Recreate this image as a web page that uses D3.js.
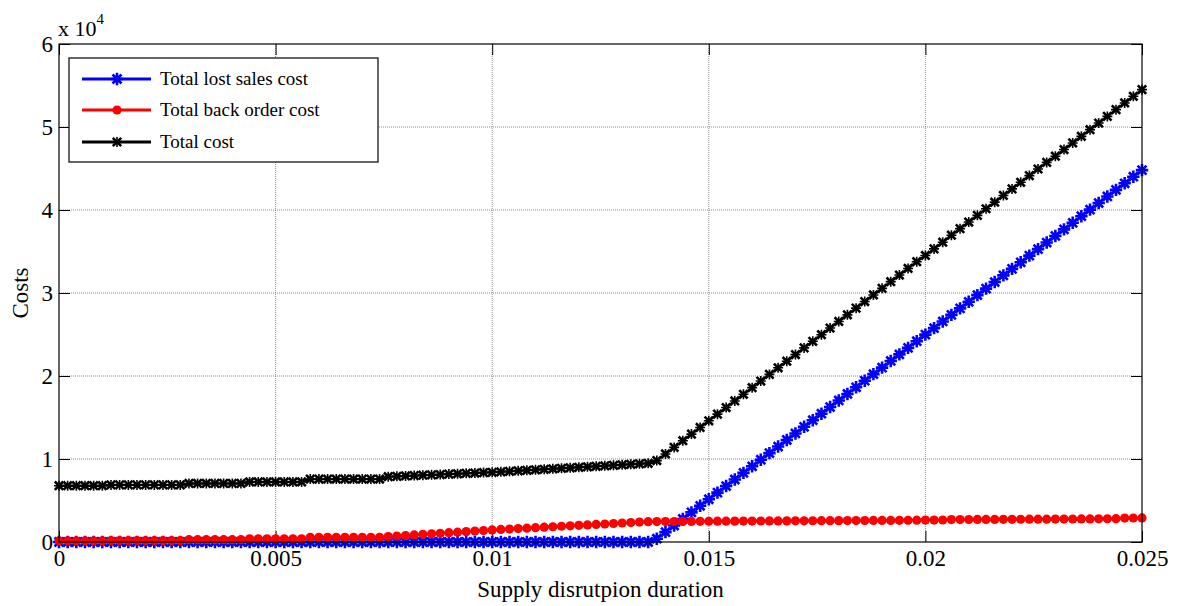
<!DOCTYPE html>
<html>
<head>
<meta charset="utf-8">
<script src="https://cdn.jsdelivr.net/npm/d3@7"></script>
<style>
  body { margin: 0; background: #fff; }
  text { font-family: "Liberation Serif", "Times New Roman", serif; fill: #000; }
</style>
</head>
<body>
<svg id="chart" width="1179" height="606"></svg>
<script>
// Supply disruption duration (x values of the sampled runs)
const duration = [
  0, 0.0002, 0.0004, 0.0006, 0.0008, 0.001,
  0.0012, 0.0014, 0.0016, 0.0018, 0.002, 0.0022, 0.0024, 0.0026, 0.0028,
  0.003, 0.0032, 0.0034, 0.0036, 0.0038, 0.004, 0.0042,
  0.0044, 0.0046, 0.0048, 0.005, 0.0052, 0.0054, 0.0056,
  0.0058, 0.006, 0.0062, 0.0064, 0.0066, 0.0068, 0.007, 0.0072, 0.0074,
  0.0076, 0.0078, 0.008, 0.0082, 0.0084, 0.0086, 0.0088, 0.009, 0.0092, 0.0094, 0.0096, 0.0098, 0.01,
  0.0102, 0.0104, 0.0106, 0.0108, 0.011, 0.0112, 0.0114, 0.0116, 0.0118, 0.012, 0.0122, 0.0124, 0.0126, 0.0128, 0.013, 0.0132, 0.0134, 0.0136,
  0.0138, 0.014, 0.0142, 0.0144, 0.0146, 0.0148, 0.015, 0.0152, 0.0154, 0.0156,
  0.0158, 0.016, 0.0162, 0.0164, 0.0166, 0.0168, 0.017, 0.0172, 0.0174, 0.0176,
  0.0178, 0.018, 0.0182, 0.0184, 0.0186, 0.0188, 0.019, 0.0192, 0.0194, 0.0196,
  0.0198, 0.02, 0.0202, 0.0204, 0.0206, 0.0208, 0.021, 0.0212, 0.0214, 0.0216,
  0.0218, 0.022, 0.0222, 0.0224, 0.0226, 0.0228, 0.023, 0.0232, 0.0234, 0.0236,
  0.0238, 0.024, 0.0242, 0.0244, 0.0246, 0.0248, 0.025
];

// Total lost sales cost
const lostSales = [
  0, 0, 0, 0, 0, 0,
  0, 0, 0, 0, 0, 0, 0, 0, 0,
  0, 0, 0, 0, 0, 0, 0,
  0, 0, 0, 0, 0, 0, 0,
  0, 0, 0, 0, 0, 0, 0, 0, 0,
  0, 0, 0, 0, 0, 0, 0, 0, 0, 0, 0, 0, 0,
  0, 0, 0, 0, 0, 0, 0, 0, 0, 0, 0, 0, 0, 0, 0, 0, 0, 0,
  400, 1190, 1980, 2780, 3570, 4360, 5150, 5950, 6740, 7530,
  8330, 9120, 9910, 10710, 11500, 12290, 13080, 13880, 14670, 15460,
  16260, 17050, 17840, 18640, 19430, 20220, 21010, 21810, 22600, 23390,
  24190, 24980, 25770, 26570, 27360, 28150, 28940, 29740, 30530, 31320,
  32120, 32910, 33700, 34500, 35290, 36080, 36870, 37670, 38460, 39250,
  40050, 40840, 41630, 42430, 43220, 44010, 44800
];

// Total back order cost
const backOrder = [
  150, 150, 150, 150, 150, 150,
  180, 180, 180, 180, 180, 180, 180, 180, 180,
  280, 280, 280, 280, 280, 280, 280,
  390, 390, 390, 390, 390, 390, 390,
  560, 560, 560, 560, 560, 560, 560, 560, 560,
  650, 720, 780, 850, 920, 980, 1050, 1120, 1180, 1250, 1320, 1380, 1450,
  1510, 1560, 1620, 1670, 1730, 1790, 1840, 1900, 1950, 2010, 2060, 2120, 2170, 2230, 2290, 2340, 2400, 2450,
  2460, 2465, 2470, 2475, 2480, 2490, 2500, 2505, 2510, 2515,
  2520, 2525, 2530, 2535, 2540, 2545, 2550, 2555, 2560, 2565,
  2570, 2575, 2580, 2585, 2590, 2595, 2600, 2605, 2610, 2620,
  2630, 2640, 2645, 2650, 2700, 2705, 2710, 2715, 2720, 2725,
  2730, 2735, 2740, 2745, 2750, 2755, 2760, 2765, 2770, 2775,
  2780, 2790, 2800, 2810, 2880, 2890, 2900
];

// Total cost
const totalCost = [
  6780, 6780, 6780, 6780, 6780, 6780,
  6880, 6880, 6880, 6880, 6880, 6880, 6880, 6880, 6880,
  7050, 7050, 7050, 7050, 7050, 7050, 7050,
  7230, 7230, 7230, 7230, 7230, 7230, 7230,
  7580, 7580, 7580, 7580, 7580, 7580, 7580, 7580, 7580,
  7870, 7910, 7960, 8000, 8050, 8090, 8130, 8180, 8220, 8270, 8310, 8360, 8400,
  8460, 8520, 8580, 8640, 8700, 8760, 8820, 8880, 8940, 9000, 9060, 9120, 9180, 9240, 9300, 9360, 9420, 9480,
  9810, 10605, 11400, 12205, 13000, 13800, 14600, 15405, 16200, 16995,
  17800, 18595, 19390, 20195, 20990, 21785, 22580, 23385, 24180, 24975,
  25780, 26575, 27370, 28175, 28970, 29765, 30560, 31365, 32160, 32960,
  33770, 34520, 35315, 36120, 36960, 37755, 38550, 39355, 40150, 40945,
  41750, 42545, 43340, 44145, 44940, 45735, 46480, 47285, 48080, 48875,
  49680, 50480, 51280, 52090, 52900, 53700, 54500
];

const xTicks = [0, 0.005, 0.01, 0.015, 0.02, 0.025];
const xTickLabels = ["0", "0.005", "0.01", "0.015", "0.02", "0.025"];
const yTicks = [0, 10000, 20000, 30000, 40000, 50000, 60000];
const yTickLabels = ["0", "1", "2", "3", "4", "5", "6"];
const seriesNames = ["Total lost sales cost", "Total back order cost", "Total cost"];

const svg = d3.select("#chart");
const plot = { left: 59, right: 1142, top: 44, bottom: 542 };

const x = d3.scaleLinear().domain([0, 0.025]).range([plot.left, plot.right]);
const y = d3.scaleLinear().domain([0, 60000]).range([plot.bottom, plot.top]);

// dotted grid
const grid = svg.append("g").attr("stroke", "#707070").attr("stroke-width", 0.8)
  .attr("stroke-dasharray", "1,1").attr("fill", "none");
xTicks.slice(1, -1).forEach(t => grid.append("line")
  .attr("x1", x(t)).attr("x2", x(t)).attr("y1", plot.top).attr("y2", plot.bottom));
yTicks.slice(1, -1).forEach(t => grid.append("line")
  .attr("x1", plot.left).attr("x2", plot.right).attr("y1", y(t)).attr("y2", y(t)));

// axes with inward ticks on all four sides
const tickLen = 11;
const fontTick = 23;
const gB = svg.append("g").attr("transform", `translate(0,${plot.bottom})`)
  .call(d3.axisBottom(x).tickValues(xTicks).tickSizeInner(-tickLen).tickSizeOuter(0)
    .tickPadding(8).tickFormat((d, i) => xTickLabels[i]));
const gL = svg.append("g").attr("transform", `translate(${plot.left},0)`)
  .call(d3.axisLeft(y).tickValues(yTicks).tickSizeInner(-tickLen).tickSizeOuter(0)
    .tickPadding(6).tickFormat((d, i) => yTickLabels[i]));
const gT = svg.append("g").attr("transform", `translate(0,${plot.top})`)
  .call(d3.axisTop(x).tickValues(xTicks).tickSizeInner(-tickLen).tickSizeOuter(0).tickFormat(""));
const gR = svg.append("g").attr("transform", `translate(${plot.right},0)`)
  .call(d3.axisRight(y).tickValues(yTicks).tickSizeInner(-tickLen).tickSizeOuter(0).tickFormat(""));
[gB, gL, gT, gR].forEach(g => {
  g.select(".domain").remove();
  g.selectAll(".tick line").attr("stroke", "#000").attr("stroke-width", 1);
  g.selectAll("text").attr("font-family", "Liberation Serif, serif")
    .attr("font-size", fontTick).attr("fill", "#000");
});

// marker shapes
const markerStar = r => {
  const a = r * 0.72;
  return `M${-r},0L${r},0M0,${-r}L0,${r}M${-a},${-a}L${a},${a}M${-a},${a}L${a},${-a}`;
};
const markerX = r => `M${-r},${-r}L${r},${r}M${-r},${r}L${r},${-r}`;

const series = [
  { name: seriesNames[0], values: lostSales, color: "#0000ff", marker: "star" },
  { name: seriesNames[1], values: backOrder, color: "#ff0000", marker: "dot" },
  { name: seriesNames[2], values: totalCost, color: "#000000", marker: "x" }
];

const line = d3.line().x(d => x(d[0])).y(d => y(d[1]));

function drawMarker(g, kind, color) {
  if (kind === "dot") {
    g.append("circle").attr("r", 4.6).attr("fill", color);
  } else if (kind === "star") {
    g.append("path").attr("d", markerStar(6.2)).attr("stroke", color)
      .attr("stroke-width", 2.6).attr("fill", "none");
  } else {
    g.append("path").attr("d", markerX(4.2)).attr("stroke", color)
      .attr("stroke-width", 2.6).attr("fill", "none");
    g.append("path").attr("d", `M-5,0L5,0M0,-5L0,5`).attr("stroke", color)
      .attr("stroke-width", 1.6).attr("fill", "none");
  }
}

const dataG = svg.append("g");
series.forEach(s => {
  const pts = duration.map((d, i) => [d, s.values[i]]);
  dataG.append("path").attr("d", line(pts)).attr("fill", "none")
    .attr("stroke", s.color).attr("stroke-width", 2.4);
  const mg = dataG.append("g");
  pts.forEach(p => {
    const g = mg.append("g").attr("transform", `translate(${x(p[0])},${y(p[1])})`);
    drawMarker(g, s.marker, s.color);
  });
});

// plot box
svg.append("rect").attr("x", plot.left).attr("y", plot.top)
  .attr("width", plot.right - plot.left).attr("height", plot.bottom - plot.top)
  .attr("fill", "none").attr("stroke", "#000").attr("stroke-width", 1.2);

// exponent label
const expo = svg.append("text").attr("x", 58).attr("y", 36).attr("font-size", 22);
expo.append("tspan").text("x 10");
expo.append("tspan").attr("font-size", 15).attr("dy", -12).text("4");

// axis titles
svg.append("text").attr("x", (plot.left + plot.right) / 2).attr("y", 597)
  .attr("text-anchor", "middle").attr("font-size", 23).text("Supply disrutpion duration");
svg.append("text").attr("transform", `translate(28,${(plot.top + plot.bottom) / 2}) rotate(-90)`)
  .attr("text-anchor", "middle").attr("font-size", 23).text("Costs");

// legend
const leg = svg.append("g");
leg.append("rect").attr("x", 69).attr("y", 58).attr("width", 309).attr("height", 104)
  .attr("fill", "#fff").attr("stroke", "#000").attr("stroke-width", 1.2);
const rowsY = [79, 110, 142];
series.forEach((s, i) => {
  const ry = rowsY[i];
  leg.append("line").attr("x1", 82).attr("x2", 151).attr("y1", ry).attr("y2", ry)
    .attr("stroke", s.color).attr("stroke-width", 3);
  const g = leg.append("g").attr("transform", `translate(117,${ry})`);
  drawMarker(g, s.marker, s.color);
  leg.append("text").attr("x", 160).attr("y", ry + 6).attr("font-size", 19).text(s.name);
});
</script>
</body>
</html>
